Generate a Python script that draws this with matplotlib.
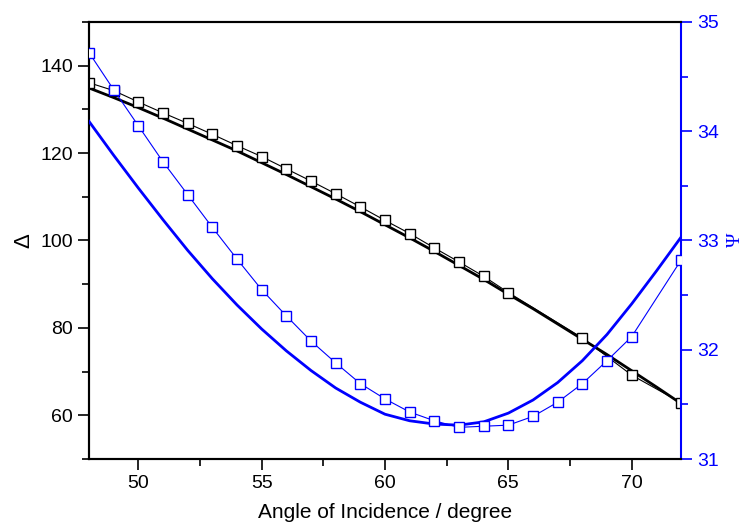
import numpy as np
import matplotlib
matplotlib.use('Agg')
import matplotlib.pyplot as plt
from matplotlib.ticker import MultipleLocator

plt.rcParams['font.family'] = ['Liberation Sans', 'DejaVu Sans']

# measured delta (black squares)
x_delta = [48, 49, 50, 51, 52, 53, 54, 55, 56, 57, 58, 59, 60, 61, 62, 63, 64, 65, 68, 70, 72]
delta_meas = [136.1, 134.3, 131.7, 129.2, 126.8, 124.3, 121.7, 119.2, 116.4, 113.6, 110.7,
              107.7, 104.6, 101.6, 98.3, 95.1, 91.8, 88.1, 77.7, 69.2, 62.9]

# measured psi (blue squares)
x_psi = [48, 49, 50, 51, 52, 53, 54, 55, 56, 57, 58, 59, 60, 61, 62, 63, 64, 65, 66, 67, 68,
         69, 70, 72]
psi_meas = [34.72, 34.38, 34.05, 33.72, 33.42, 33.12, 32.83, 32.55, 32.31, 32.08, 31.88, 31.69,
            31.55, 31.43, 31.35, 31.29, 31.30, 31.31, 31.39, 31.52, 31.69, 31.90, 32.12, 32.82]

# model curves
x_model = list(range(48, 73))
delta_model = [134.9, 132.7, 130.4, 128.0, 125.5, 123.0, 120.5, 117.8, 115.1, 112.3, 109.5,
               106.6, 103.6, 100.6, 97.5, 94.3, 91.1, 87.7, 84.4, 80.9, 77.4, 73.9, 70.2,
               66.5, 62.7]
psi_model = [34.09, 33.78, 33.48, 33.19, 32.91, 32.65, 32.41, 32.19, 31.99, 31.81, 31.65,
             31.52, 31.41, 31.35, 31.32, 31.31, 31.34, 31.42, 31.54, 31.70, 31.90, 32.14,
             32.42, 32.72, 33.03]

fig = plt.figure(figsize=(7.46, 5.27), dpi=100)
ax = fig.add_axes([0.1193, 0.129, 0.7936, 0.8293])
ax2 = ax.twinx()

blue = '#0000ff'

ax.plot(x_model, delta_model, color='black', lw=2.0, zorder=3)
ax.plot(x_delta, delta_meas, color='black', lw=0.8, marker='s', ms=7.5,
        mfc='white', mec='black', mew=1.0, zorder=4)

ax2.plot(x_model, psi_model, color=blue, lw=2.0, zorder=3)
ax2.plot(x_psi, psi_meas, color=blue, lw=0.8, marker='s', ms=7.5,
         mfc='white', mec=blue, mew=1.0, zorder=4)

ax.set_xlim(48, 72)
ax.set_ylim(50, 150)
ax2.set_ylim(31, 35)

ax.xaxis.set_major_locator(MultipleLocator(5))
ax.xaxis.set_minor_locator(MultipleLocator(2.5))
ax.yaxis.set_major_locator(MultipleLocator(20))
ax.yaxis.set_minor_locator(MultipleLocator(10))
ax2.yaxis.set_major_locator(MultipleLocator(1))
ax2.yaxis.set_minor_locator(MultipleLocator(0.5))

ax.tick_params(axis='both', which='major', direction='out', length=8, width=1.2,
               labelsize=14, top=False)
ax.tick_params(axis='both', which='minor', direction='out', length=5, width=1.2, top=False)
ax.tick_params(axis='x', which='minor', labelbottom=False)
ax2.tick_params(axis='y', which='major', direction='out', length=8, width=1.2,
                labelsize=14, colors=blue)
ax2.tick_params(axis='y', which='minor', direction='out', length=5, width=1.2, colors=blue)

for s in ['left', 'bottom', 'top']:
    ax.spines[s].set_linewidth(1.5)
    ax2.spines[s].set_linewidth(1.5)
ax2.spines['right'].set_color(blue)
ax2.spines['right'].set_linewidth(1.5)
ax.spines['right'].set_visible(False)

ax.set_xlabel('Angle of Incidence / degree', fontsize=15, labelpad=8)
ax.set_ylabel('Δ', fontsize=16, labelpad=4)
ax2.set_ylabel('Ψ', fontsize=14, color=blue, rotation=90,
               family=['Liberation Serif', 'DejaVu Serif'])
ax2.yaxis.label.set_va('center')
ax2.yaxis.label.set_ha('center')
ax2.yaxis.set_label_coords(0.986, 0.545, transform=fig.transFigure)

fig.savefig('out.png', dpi=100)
plt.close(fig)
